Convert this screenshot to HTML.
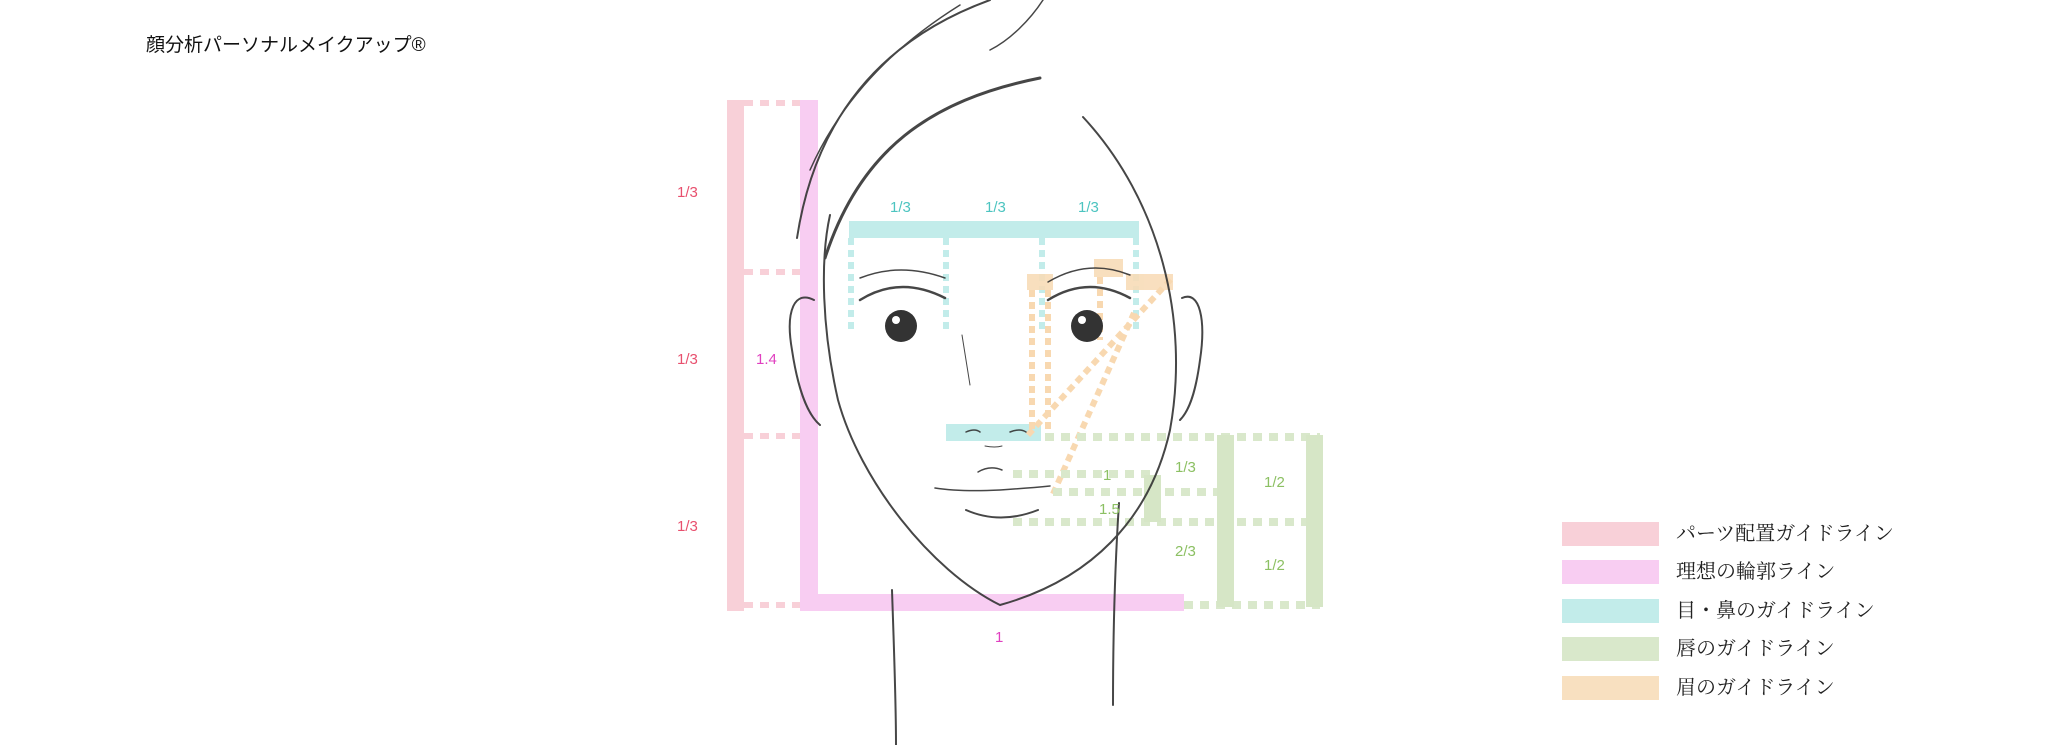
<!DOCTYPE html>
<html><head><meta charset="utf-8"><style>
html,body{margin:0;padding:0;background:#fff;}
body{width:2048px;height:745px;position:relative;overflow:hidden;font-family:"Liberation Sans","Noto Sans CJK JP",sans-serif;}
.t{position:absolute;white-space:nowrap;}
.lg{position:absolute;left:1562px;width:97px;height:24px;}
.lt{position:absolute;left:1676px;font-family:"Liberation Serif","Noto Serif CJK SC",serif;font-size:20px;color:#222;line-height:24px;}
</style></head><body>
<div class="t" style="left:146px;top:30px;font-size:19px;color:#111;">顔分析パーソナルメイクアップ®</div>

<svg width="2048" height="745" style="position:absolute;left:0;top:0">
<!-- pink parts guide -->
<rect x="727" y="100" width="17" height="511" fill="#f8d0d8"/>
<g stroke="#f8d0d8" stroke-width="6" stroke-dasharray="9,7">
<line x1="744" y1="103" x2="800" y2="103"/><line x1="744" y1="272" x2="800" y2="272"/>
<line x1="744" y1="436" x2="800" y2="436"/><line x1="744" y1="605" x2="800" y2="605"/>
</g>
<!-- magenta -->
<rect x="800" y="100" width="18" height="511" fill="#f8cdf2"/>
<rect x="800" y="594" width="384" height="17" fill="#f8cdf2"/>
<!-- cyan -->
<rect x="849" y="221" width="290" height="17" fill="#c2ecea"/>
<rect x="946" y="424" width="95" height="17" fill="#c2ecea"/>
<g stroke="#c2ecea" stroke-width="6" stroke-dasharray="7,5">
<line x1="851" y1="238" x2="851" y2="330"/><line x1="946" y1="238" x2="946" y2="330"/>
<line x1="1042" y1="238" x2="1042" y2="330"/><line x1="1136" y1="238" x2="1136" y2="330"/>
</g>
<!-- orange -->
<g fill="#f8dcb8" opacity="0.9">
<rect x="1027" y="274" width="26" height="16"/><rect x="1094" y="259" width="29" height="18"/><rect x="1126" y="274" width="47" height="16"/>
</g>
<g stroke="#f8d8b0" stroke-width="6" stroke-dasharray="7,5">
<line x1="1032" y1="290" x2="1032" y2="431"/><line x1="1048" y1="290" x2="1048" y2="431"/>
<line x1="1100" y1="277" x2="1100" y2="340"/>
<line x1="1028" y1="435" x2="1171" y2="279"/><line x1="1053" y1="494" x2="1134" y2="313"/>
</g>
<!-- green -->
<g stroke="#d9e8cb" stroke-width="8" stroke-dasharray="9,7">
<line x1="1045" y1="437" x2="1320" y2="437"/>
<line x1="1013" y1="474" x2="1150" y2="474"/>
<line x1="1053" y1="492" x2="1218" y2="492"/>
<line x1="1013" y1="522" x2="1320" y2="522"/>
<line x1="1184" y1="605" x2="1320" y2="605"/>
</g>
<g fill="#d6e6c6">
<rect x="1217" y="435" width="17" height="172"/>
<rect x="1306" y="435" width="17" height="172"/>
<rect x="1144" y="475" width="17" height="47"/>
</g>

<!-- face sketch (on top) -->
<g fill="none" stroke="#333" stroke-width="2" stroke-linecap="round" opacity="0.9">
<path d="M1083,117 C1160,200 1190,320 1170,430 C1150,520 1090,580 1000,605 C930,570 860,480 838,400 C822,330 820,260 830,215"/>
<path d="M825,258 C860,150 930,100 1040,78" stroke-width="3"/>
<path d="M797,238 C815,120 880,40 990,0"/>
<path d="M810,170 C850,80 920,30 960,5" stroke-width="1.5"/>
<path d="M1043,0 C1030,20 1010,40 990,50" stroke-width="1.5"/>
<path d="M892,590 C894,650 896,700 896,745"/>
<path d="M1119,503 C1114,580 1113,650 1113,705"/>
<path d="M814,300 C795,290 785,310 792,350 C798,390 808,415 820,425"/>
<path d="M1182,298 C1200,290 1206,320 1200,360 C1196,390 1190,410 1180,420"/>
<path d="M860,300 Q900,275 945,298" stroke-width="2.5"/>
<path d="M1048,300 Q1088,275 1130,298" stroke-width="2.5"/>
<path d="M860,278 Q900,262 945,278" stroke-width="1.5"/>
<path d="M1048,282 Q1088,258 1130,275" stroke-width="1.5"/>
<path d="M962,335 Q966,360 970,385" stroke-width="1"/>
<path d="M966,432 Q975,428 980,432 M1010,432 Q1020,428 1026,432" stroke-width="1.5"/>
<path d="M985,446 Q995,448 1002,446" stroke-width="1"/>
<path d="M978,472 Q990,465 1002,470" stroke-width="1.5"/>
<path d="M935,488 Q960,492 1000,490 Q1030,488 1050,486" stroke-width="1.5"/>
<path d="M966,510 Q1000,525 1038,510" stroke-width="2"/>
</g>
<circle cx="901" cy="326" r="16" fill="#333"/>
<circle cx="896" cy="320" r="4" fill="#fff"/>
<circle cx="1087" cy="326" r="16" fill="#333"/>
<circle cx="1082" cy="320" r="4" fill="#fff"/>

<g font-family="Liberation Sans, sans-serif" font-size="15">
<g fill="#e8506e"><text x="677" y="197">1/3</text><text x="677" y="364">1/3</text><text x="677" y="531">1/3</text></g>
<g fill="#e040c0"><text x="756" y="364">1.4</text><text x="995" y="642">1</text></g>
<g fill="#4cc4c0"><text x="890" y="212">1/3</text><text x="985" y="212">1/3</text><text x="1078" y="212">1/3</text></g>
<g fill="#8cc063"><text x="1103" y="480">1</text><text x="1099" y="514">1.5</text>
<text x="1175" y="472">1/3</text><text x="1175" y="556">2/3</text>
<text x="1264" y="487">1/2</text><text x="1264" y="570">1/2</text></g>
</g>
</svg>

<div class="lg" style="top:522px;background:#f8d0d8"></div><div class="lt" style="top:522px">パーツ配置ガイドライン</div>
<div class="lg" style="top:560px;background:#f8cdf2"></div><div class="lt" style="top:560px">理想の輪郭ライン</div>
<div class="lg" style="top:599px;background:#c2ecea"></div><div class="lt" style="top:599px">目・鼻のガイドライン</div>
<div class="lg" style="top:637px;background:#d9e8cb"></div><div class="lt" style="top:637px">唇のガイドライン</div>
<div class="lg" style="top:676px;background:#f8e0c0"></div><div class="lt" style="top:676px">眉のガイドライン</div>
</body></html>
